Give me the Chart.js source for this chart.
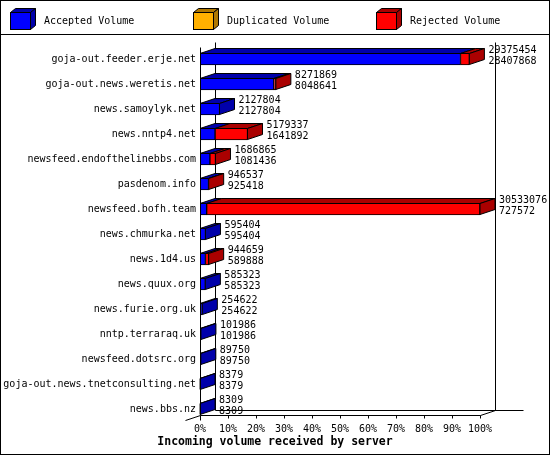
<!DOCTYPE html>
<html>
<head>
<meta charset="utf-8">
<script src="https://cdn.jsdelivr.net/npm/chart.js@4.4.1/dist/chart.umd.min.js"></script>
<style>
  html, body { margin: 0; padding: 0; background: #ffffff; }
  #wrap { width: 550px; height: 455px; position: relative; }
</style>
</head>
<body>
<div id="wrap"><canvas id="c" width="550" height="455"></canvas></div>
<script>
// ---- data ----
const servers = [
  'goja-out.feeder.erje.net',
  'goja-out.news.weretis.net',
  'news.samoylyk.net',
  'news.nntp4.net',
  'newsfeed.endofthelinebbs.com',
  'pasdenom.info',
  'newsfeed.bofh.team',
  'news.chmurka.net',
  'news.1d4.us',
  'news.quux.org',
  'news.furie.org.uk',
  'nntp.terraraq.uk',
  'newsfeed.dotsrc.org',
  'goja-out.news.tnetconsulting.net',
  'news.bbs.nz'
];
const offeredVolume   = [29375454, 8271869, 2127804, 5179337, 1686865, 946537, 30533076, 595404, 944659, 585323, 254622, 101986, 89750, 8379, 8309];
const acceptedVolume  = [28407868, 8048641, 2127804, 1641892, 1081436, 925418, 727572, 595404, 589888, 585323, 254622, 101986, 89750, 8379, 8309];
const duplicatedVolume = [0, 0, 0, 0, 0, 0, 0, 0, 0, 0, 0, 0, 0, 0, 0];
const rejectedVolume  = [967586, 223228, 0, 3537445, 605429, 21119, 29805504, 0, 354771, 0, 0, 0, 0, 0, 0];
const seriesNames = ['Accepted Volume', 'Duplicated Volume', 'Rejected Volume'];
const tickPercents = [0, 10, 20, 30, 40, 50, 60, 70, 80, 90, 100];
const axisTitle = 'Incoming volume received by server';

// ---- styles ----
const FRONT = ['#0000FF', '#FFB000', '#FF0000'];
const DARK  = ['#0000AA', '#B07800', '#AA0000'];
const DX = 15, DY = 5;
const FONT = '"DejaVu Sans Mono", monospace';
const maxVolume = Math.max(...offeredVolume);

Chart.defaults.font.family = FONT;
Chart.defaults.font.size = 10;
Chart.defaults.color = '#000000';

function poly(ctx, pts, fill) {
  ctx.beginPath();
  ctx.moveTo(pts[0][0], pts[0][1]);
  for (let i = 1; i < pts.length; i++) ctx.lineTo(pts[i][0], pts[i][1]);
  ctx.closePath();
  ctx.fillStyle = fill;
  ctx.fill();
  ctx.strokeStyle = '#000000';
  ctx.lineWidth = 1;
  ctx.stroke();
}
function seg(ctx, x1, y1, x2, y2) {
  ctx.beginPath();
  ctx.moveTo(x1, y1);
  ctx.lineTo(x2, y2);
  ctx.strokeStyle = '#000000';
  ctx.lineWidth = 1;
  ctx.stroke();
}
function frame(chart) {
  const xs = chart.scales.x, ys = chart.scales.y;
  const n = servers.length;
  const half = chart.getDatasetMeta(0).data[0].height / 2;
  return {
    xs, ys,
    x0: Math.round(xs.getPixelForValue(0)) + 0.5,
    x100: Math.round(xs.getPixelForValue(maxVolume)) + 0.5,
    yB: Math.round(ys.getPixelForValue(n - 1) + half) + 0.5,
    yT: Math.round(ys.getPixelForValue(0) - 17) + 0.5
  };
}

const threeD = {
  id: 'threeD',
  beforeDatasetsDraw(chart) {
    const ctx = chart.ctx;
    const f = frame(chart);
    ctx.save();
    seg(ctx, f.x0 + DX, f.yT, f.x0 + DX, f.yB - DY);
    seg(ctx, f.x100 + DX, f.yT, f.x100 + DX, f.yB - DY);
    seg(ctx, f.x0 + DX, f.yB - DY, f.x100 + DX + 28, f.yB - DY);
    ctx.restore();
  },
  afterDatasetsDraw(chart) {
    const ctx = chart.ctx;
    const f = frame(chart);
    ctx.save();
    const nd = chart.data.datasets.length;
    for (let i = 0; i < servers.length; i++) {
      const segs = [];
      let el0 = null;
      for (let d = 0; d < nd; d++) {
        const el = chart.getDatasetMeta(d).data[i];
        if (!el0) el0 = el;
        if (chart.data.datasets[d].data[i] > 0) {
          segs.push({ a: Math.min(el.base, el.x), b: Math.max(el.base, el.x), d });
        }
      }
      const top = el0.y - el0.height / 2 + 0.5;
      const bot = el0.y + el0.height / 2 - 0.5;
      segs.forEach(s => {
        poly(ctx, [[s.a, top], [s.b, top], [s.b + DX, top - DY], [s.a + DX, top - DY]], DARK[s.d]);
      });
      if (segs.length) {
        const last = segs[segs.length - 1];
        poly(ctx, [[last.b, top], [last.b + DX, top - DY], [last.b + DX, bot - DY], [last.b, bot]], DARK[last.d]);
      }
    }
    // front axes
    seg(ctx, f.x0, f.yT + 5, f.x0, f.yB);
    seg(ctx, f.x0, f.yB, f.x100, f.yB);
    seg(ctx, f.x100, f.yB, f.x100 + DX, f.yB - DY);
    seg(ctx, f.x0 - DX, f.yB + DY, f.x0, f.yB);
    tickPercents.forEach(p => {
      const xk = Math.round(f.xs.getPixelForValue(maxVolume * p / 100)) + 0.5;
      seg(ctx, xk, f.yB, xk, f.yB + (p === 0 ? 5 : 3));
    });
    // value labels
    ctx.font = '10px ' + FONT;
    ctx.fillStyle = '#000000';
    ctx.textAlign = 'left';
    ctx.textBaseline = 'middle';
    for (let i = 0; i < servers.length; i++) {
      const yc = f.ys.getPixelForValue(i);
      const xe = f.xs.getPixelForValue(offeredVolume[i]);
      ctx.fillText(String(offeredVolume[i]), xe + DX + 4, yc - 9);
      ctx.fillText(String(acceptedVolume[i]), xe + DX + 4, yc + 2);
    }
    ctx.restore();
  },
  afterDraw(chart) {
    const ctx = chart.ctx;
    ctx.save();
    // legend
    ctx.font = '10px ' + FONT;
    ctx.textAlign = 'left';
    ctx.textBaseline = 'middle';
    seriesNames.forEach((name, k) => {
      const bx = 10 + 183 * k + 0.5, by = 12.5, bw = 20, bh = 17;
      ctx.fillStyle = FRONT[k];
      ctx.fillRect(bx, by, bw, bh);
      ctx.strokeStyle = '#000'; ctx.lineWidth = 1;
      ctx.strokeRect(bx, by, bw, bh);
      poly(ctx, [[bx, by], [bx + bw, by], [bx + bw + 5, by - 4], [bx + 5, by - 4]], DARK[k]);
      poly(ctx, [[bx + bw, by], [bx + bw + 5, by - 4], [bx + bw + 5, by + bh - 4], [bx + bw, by + bh]], DARK[k]);
      ctx.fillStyle = '#000000';
      ctx.fillText(name, 10 + 183 * k + 34, 21);
    });
    // separator + outer border
    ctx.fillStyle = '#000000';
    ctx.fillRect(0, 34, 550, 1);
    ctx.strokeStyle = '#000000';
    ctx.lineWidth = 1;
    ctx.strokeRect(0.5, 0.5, 549, 454);
    ctx.restore();
  }
};

const datasets = [acceptedVolume, duplicatedVolume, rejectedVolume].map((vals, k) => ({
  label: seriesNames[k],
  data: vals,
  backgroundColor: FRONT[k],
  borderColor: '#000000',
  borderWidth: 1,
  borderSkipped: false,
  barThickness: 12,
  yAxisID: 'y'
}));

new Chart(document.getElementById('c'), {
  type: 'bar',
  data: { labels: servers, datasets },
  plugins: [threeD],
  options: {
    indexAxis: 'y',
    responsive: false,
    animation: false,
    events: [],
    layout: { padding: { top: 46.5, left: 0, right: 0, bottom: 0 } },
    scales: {
      x: {
        stacked: true,
        min: 0,
        max: maxVolume,
        grid: { display: false, drawTicks: false },
        border: { display: false },
        afterBuildTicks(scale) {
          scale.ticks = tickPercents.map(p => ({ value: maxVolume * p / 100 }));
        },
        afterFit(scale) { scale.height = 13.3; },
        ticks: {
          padding: 2,
          maxRotation: 0,
          autoSkip: false,
          font: { size: 10, family: FONT },
          callback: (v) => Math.round(v / maxVolume * 100) + '%'
        }
      },
      y: {
        stacked: true,
        grid: { display: false, drawTicks: false },
        border: { display: false },
        afterFit(scale) { scale.width = 200; },
        ticks: { padding: 4, autoSkip: false, font: { size: 10, family: FONT } }
      },
      ySpace: {
        type: 'linear',
        position: 'right',
        grid: { display: false, drawTicks: false },
        border: { display: false },
        ticks: { display: false },
        afterFit(scale) { scale.width = 70; }
      }
    },
    plugins: {
      legend: { display: false },
      tooltip: { enabled: false },
      title: {
        display: true,
        position: 'bottom',
        text: axisTitle,
        color: '#000000',
        font: { family: FONT, size: 11.5, weight: 'bold', lineHeight: 1.2 },
        padding: { top: 0, bottom: 6.4 }
      }
    }
  }
});
</script>
</body>
</html>
